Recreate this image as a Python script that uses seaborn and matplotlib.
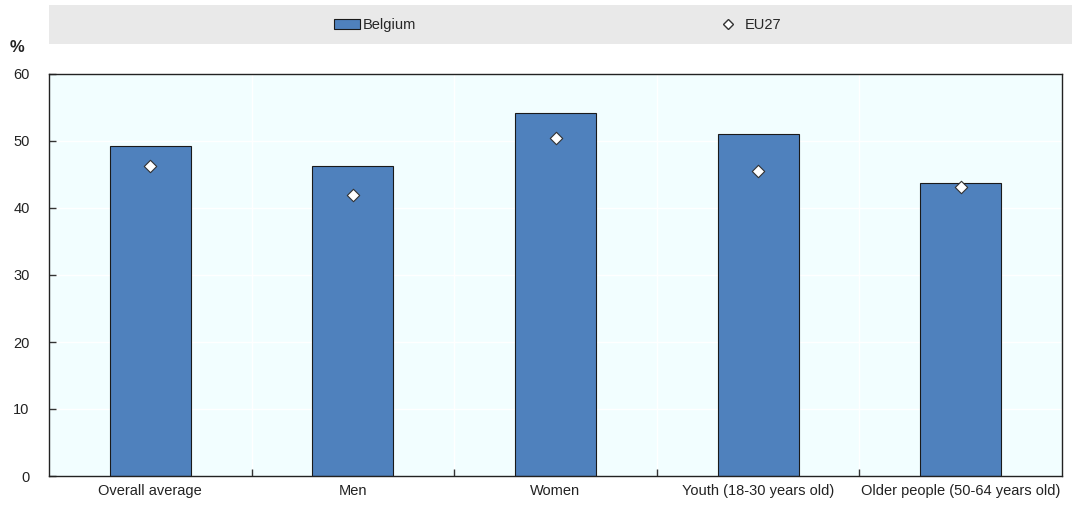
import matplotlib
matplotlib.use("Agg")
import matplotlib.pyplot as plt
import seaborn as sns
import pandas as pd
import numpy as np
from matplotlib.patches import Rectangle
from matplotlib.lines import Line2D

categories = ["Overall average", "Men", "Women", "Youth (18-30 years old)", "Older people (50-64 years old)"]
belgium = [49.3, 46.3, 54.2, 51.0, 43.8]
eu27 = [46.3, 41.9, 50.5, 45.5, 43.1]

df = pd.DataFrame({"cat": categories, "Belgium": belgium, "EU27": eu27})

sns.set_style("white")
plt.rcParams["font.family"] = ["Liberation Sans", "DejaVu Sans"]

fig = plt.figure(figsize=(10.72, 5.05), dpi=100)
ax = fig.add_axes([49 / 1072, 29 / 505, (1062 - 49) / 1072, (476 - 74) / 505])
ax.set_facecolor("#f2feff")
ax.set_axisbelow(False)

sns.barplot(data=df, x="cat", y="Belgium", color="#4f81bd", width=0.4,
            edgecolor="#1a1a1a", linewidth=0.8, saturation=1, ax=ax, zorder=3)
sns.scatterplot(data=df, x="cat", y="EU27", marker="D", s=40, color="white",
                edgecolor="#333333", linewidth=0.8, ax=ax, zorder=4, legend=False)

ax.set_ylim(0, 60)
ax.set_xlim(-0.5, len(categories) - 0.5)
ax.set_yticks(range(0, 61, 10))
ax.set_xlabel("")
ax.set_ylabel("")

# grid: white lines at y ticks and between categories
for y in range(10, 60, 10):
    ax.axhline(y, color="white", lw=1, zorder=1)
for x in np.arange(0.5, len(categories) - 0.5, 1):
    ax.axvline(x, color="white", lw=1, zorder=1)

ax.set_xticks(np.arange(len(categories)))
ax.set_xticklabels(categories)
ax.set_xticks(np.arange(0.5, len(categories) - 0.5, 1), minor=True)
ax.tick_params(axis="x", which="major", length=0, labelsize=10.5, colors="#222222", pad=6)
ax.tick_params(axis="x", which="minor", direction="in", length=5, width=1, color="#333333",
               bottom=True)
ax.tick_params(axis="y", direction="in", length=5, width=1, labelsize=10.5, labelcolor="#222222",
               color="#333333", pad=14, left=True)

for s in ax.spines.values():
    s.set_visible(True)
    s.set_color("#222222")
    s.set_linewidth(1)
    s.set_zorder(5)

# legend band
band = Rectangle((49 / 1072, 1 - 44 / 505), 1 - 49 / 1072, 39 / 505, transform=fig.transFigure,
                 facecolor="#e9e9e9", edgecolor="none", zorder=0)
fig.patches.append(band)
handles = [Rectangle((0, 0), 1, 1, facecolor="#4f81bd", edgecolor="#1a1a1a", linewidth=0.8),
           Line2D([], [], marker="D", linestyle="none", markerfacecolor="white",
                  markeredgecolor="#333333", markersize=5)]
fig.legend(handles, ["Belgium", "EU27"], loc="center", bbox_to_anchor=(0.52, 1 - 25 / 505),
           ncol=2, frameon=False, fontsize=10.5, columnspacing=20.5, handlelength=1.8,
           handletextpad=0.2)

fig.text(10 / 1072, 1 - 47 / 505, "%", fontsize=12, fontweight="bold", va="center", color="#222222")

fig.savefig("out.png", dpi=100)
